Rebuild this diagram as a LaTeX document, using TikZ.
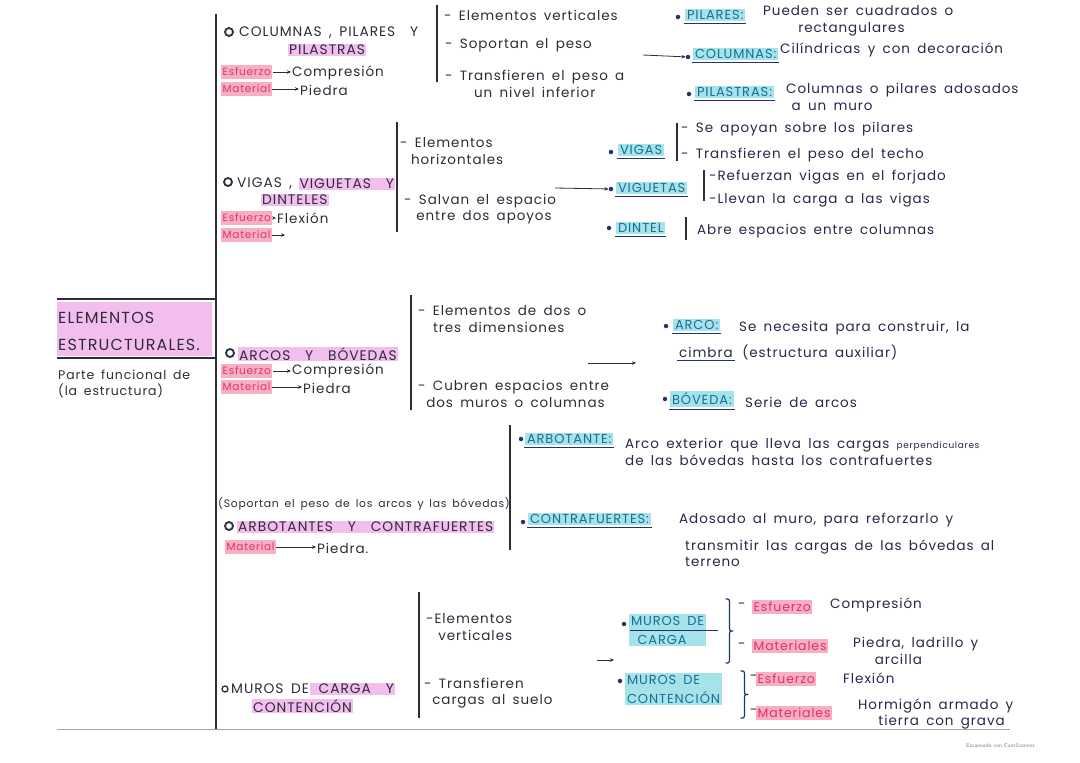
\documentclass[tikz,border=0pt]{standalone}
\usepackage{fontspec}
\newfontfamily\hand[LetterSpace=7,WordSpace=1.6]{Poppins}
\usetikzlibrary{arrows.meta,calc}
\definecolor{ink}{RGB}{45,45,58}
\definecolor{pinkhl}{RGB}{243,190,238}
\definecolor{redhl}{RGB}{248,175,198}
\definecolor{redtx}{RGB}{222,52,98}
\definecolor{tealhl}{RGB}{165,226,233}
\definecolor{tealtx}{RGB}{22,112,150}
\definecolor{navy}{RGB}{32,52,112}
\definecolor{desc}{RGB}{40,40,72}
\newcommand\myul[1]{\draw[uline] ($(#1.south west)+(-1,2)$) -- ($(#1.south east)+(1,2)$);}
% closing brace "}" at x=#1 from y=#2 (top) to y=#3 (bottom), tip pointing right
\newcommand\myrbrace[3]{%
 \pgfmathsetmacro\bym{(#2+#3)/2}%
 \draw[bracel] (#1,#2) .. controls (#1+3.5,#2) .. (#1+3.5,#2+6) -- (#1+3.5,\bym-5)
   .. controls (#1+3.5,\bym) .. (#1+7,\bym) .. controls (#1+3.5,\bym) .. (#1+3.5,\bym+5)
   -- (#1+3.5,#3-6) .. controls (#1+3.5,#3) .. (#1,#3);}
\begin{document}
\begin{tikzpicture}[x=1pt,y=-1pt,
 every node/.style={inner sep=1pt, anchor=west, text=ink},
 txt/.style={font=\hand\fontsize{13.5}{16.5}\selectfont, align=left},
 sm/.style={font=\hand\fontsize{10.8}{12}\selectfont},
 hd/.style={font=\hand\fontsize{13.8}{17}\selectfont},
 pinkbg/.style={fill=pinkhl},
 tag/.style={font=\hand\fontsize{10.5}{12}\selectfont, fill=redhl, text=redtx, inner xsep=1.5pt, inner ysep=2.5pt},
 bigtag/.style={tag, font=\hand\fontsize{12.5}{14}\selectfont},
 lbl/.style={font=\hand\fontsize{13}{19}\selectfont, fill=tealhl, text=tealtx, inner sep=1.8pt, align=left},
 dsc/.style={txt, text=desc},
 bar/.style={draw=ink, line width=1.2pt},
 uline/.style={draw=navy, line width=0.9pt},
 arr/.style={draw=ink, line width=0.8pt, -{Stealth[length=4pt,width=3.5pt]}},
 ring/.style={circle, draw=ink, line width=1.8pt, minimum size=8pt, inner sep=0pt, anchor=center},
 dot/.style={circle, fill=navy, minimum size=4.5pt, inner sep=0pt, anchor=center},
 bracel/.style={draw=navy, line width=1.2pt, line cap=round, line join=round},
]
\useasboundingbox (0,0) rectangle (1080,763);
\fill[white] (0,0) rectangle (1080,763);

% main spine and root
\coordinate (mtop) at (216,14);
\coordinate (mbot) at (216,729);
\draw[bar] (mtop) -- (mbot);
\fill[pinkhl] (57,302) rectangle (212,356);
\node[font=\hand\fontsize{16}{27}\selectfont, align=left] (root) at (57,331) {ELEMENTOS\\ESTRUCTURALES.};
\coordinate (rl1) at (57,299); \coordinate (rl2) at (57,358);
\draw[bar] (rl1) -- (rl1 -| mtop);
\draw[bar] (rl2) -- (rl2 -| mtop);
\node[txt, font=\hand\fontsize{12.5}{16}\selectfont] (rootsub) at (57,384) {Parte funcional de\\(la estructura)};
\coordinate (bl1) at (57,729); \coordinate (bl2) at (1010,729);
\draw[draw=gray!70, line width=1pt] (bl1) -- (bl2);

% ---------- section 1
\node[ring] (o1) at (229,32) {};
\node[hd] (h1) at (238,33) {COLUMNAS , PILARES \ Y};
\node[hd, pinkbg] (h1b) at (288,50) {PILASTRAS};
\node[tag] (e1) at (221,72) {Esfuerzo};
\node[txt] (e1v) at (291,73) {Compresión};
\draw[arr] (e1.east) -- (e1.east -| e1v.west);
\node[tag] (m1) at (221,89) {Material};
\node[txt] (m1v) at (299,90) {Piedra};
\draw[arr] (m1.east) -- (m1.east -| m1v.west);

\coordinate (v1a) at (437,5); \coordinate (v1b) at (437,82);
\draw[bar] (v1a) -- (v1b);
\node[txt] (d11) at (443,15) {- Elementos verticales};
\node[txt] (d12) at (444,45) {- Soportan el peso};
\node[txt, align=center] (d13) at (444,84) {- Transfieren el peso a\\un nivel inferior};

\node[dot] (b11) at (678,17) {};
\node[lbl] (l11) at (685,15) {PILARES:};
\myul{l11}
\node[dsc] (t11) at (762,21) {Pueden ser cuadrados o\\\hspace*{2.6em}rectangulares};
\coordinate (a1s) at (643,55);
\node[dot] (b12) at (688,57) {};
\draw[arr] (a1s) -- (b12);
\node[lbl] (l12) at (693,54) {COLUMNAS:};
\myul{l12}
\node[dsc] (t12) at (779,50) {Cilíndricas y con decoración};
\node[dot] (b13) at (689,94) {};
\node[lbl] (l13) at (695,92) {PILASTRAS:};
\myul{l13}
\node[dsc] (t13) at (785,97) {Columnas o pilares adosados\\\hspace*{0.4em}a un muro};

% ---------- section 2
\node[ring] (o2) at (228,182) {};
\node[hd] (h2a) at (236,184) {VIGAS ,};
\node[hd, pinkbg] (h2b) at ($(h2a.east)+(5,0)$) {VIGUETAS \ Y};
\node[hd, pinkbg] (h2c) at (261,200) {DINTELES};
\node[tag] (e2) at (221,218) {Esfuerzo};
\node[txt] (e2v) at (276,218) {Flexión};
\draw[arr] (e2.east) -- (e2.east -| e2v.west);
\node[tag] (m2) at (221,235) {Material};
\coordinate (m2e) at (285,235);
\draw[arr] (m2.east) -- (m2.east -| m2e);

\coordinate (v2a) at (397,122); \coordinate (v2b) at (397,232);
\draw[bar] (v2a) -- (v2b);
\node[txt] (d21) at (399,151) {- Elementos\\\hspace*{0.8em}horizontales};
\node[txt] (d22) at (403,209) {- Salvan el espacio\\\hspace*{0.9em}entre dos apoyos};
\coordinate (a2s) at (555,188);
\node[dot] (b21) at (611,152) {};
\node[lbl] (l21) at (618,150) {VIGAS};
\myul{l21}
\coordinate (w2a) at (677,123); \coordinate (w2b) at (677,161);
\draw[bar] (w2a) -- (w2b);
\node[dsc] (t21a) at (680,129) {- Se apoyan sobre los pilares};
\node[dsc] (t21b) at (680,155) {- Transfieren el peso del techo};
\node[dot] (b22) at (611,189) {};
\draw[arr] (a2s) -- (b22);
\node[lbl] (l22) at (616,188) {VIGUETAS};
\myul{l22}
\coordinate (w3a) at (704,170); \coordinate (w3b) at (704,201);
\draw[bar] (w3a) -- (w3b);
\node[dsc] (t22a) at (708,177) {-Refuerzan vigas en el forjado};
\node[dsc] (t22b) at (708,200) {-Llevan la carga a las vigas};
\node[dot] (b23) at (609,228) {};
\node[lbl] (l23) at (616,228) {DINTEL};
\myul{l23}
\coordinate (w4a) at (686,217); \coordinate (w4b) at (686,240);
\draw[bar] (w4a) -- (w4b);
\node[dsc] (t23) at (696,231) {Abre espacios entre columnas};

% ---------- section 3
\node[ring] (o3) at (230,353) {};
\node[hd, pinkbg] (h3) at (238,354) {ARCOS \ Y \ BÓVEDAS};
\node[tag] (e3) at (221,371) {Esfuerzo};
\node[txt] (e3v) at (291,371) {Compresión};
\draw[arr] (e3.east) -- (e3.east -| e3v.west);
\node[tag] (m3) at (221,387) {Material};
\node[txt] (m3v) at (302,388) {Piedra};
\draw[arr] (m3.east) -- (m3.east -| m3v.west);

\coordinate (v3a) at (411,295); \coordinate (v3b) at (411,410);
\draw[bar] (v3a) -- (v3b);
\node[txt] (d31) at (417,319) {- Elementos de dos o\\\hspace*{1.1em}tres dimensiones};
\node[txt] (d32) at (417,394) {- Cubren espacios entre\\\hspace*{0.6em}dos muros o columnas};
\coordinate (a3s) at (588,363); \coordinate (a3e) at (636,363);
\draw[arr] (a3s) -- (a3e);
\node[dot] (b31) at (666,326) {};
\node[lbl] (l31) at (673,325) {ARCO:};
\myul{l31}
\node[dsc] (t31a) at (738,328) {Se necesita para construir, la};
\node[dsc] (cb) at (678,352) {cimbra};
\myul{cb}
\node[dsc] (t31b) at (cb.east) {\ (estructura auxiliar)};
\node[dot] (b32) at (665,399) {};
\node[lbl] (l32) at (670,399) {BÓVEDA:};
\myul{l32}
\node[dsc] (t32) at (744,402) {Serie de arcos};

% ---------- section 4
\node[sm] (s4) at (217,504) {(Soportan el peso de los arcos y las bóvedas)};
\node[ring] (o4) at (229,526) {};
\node[hd, pinkbg] (h4) at (237,527) {ARBOTANTES \ Y \ CONTRAFUERTES};
\node[tag] (m4) at (225,547) {Material};
\node[txt] (m4v) at (316,548) {Piedra.};
\draw[arr] (m4.east) -- (m4.east -| m4v.west);

\coordinate (v4a) at (510,425); \coordinate (v4b) at (510,550);
\draw[bar] (v4a) -- (v4b);
\node[dot] (b41) at (521,439) {};
\node[lbl] (l41) at (525,439) {ARBOTANTE:};
\myul{l41}
\node[dsc] (t41) at (624,452) {Arco exterior que lleva las cargas {\fontsize{9}{16}\selectfont perpendiculares}\\de las bóvedas hasta los contrafuertes};
\node[dot] (b42) at (523,522) {};
\node[lbl] (l42) at (528,519) {CONTRAFUERTES:};
\myul{l42}
\node[dsc] (t42a) at (678,520) {Adosado al muro, para reforzarlo y};
\node[dsc] (t42b) at (684,553) {transmitir las cargas de las bóvedas al\\terreno};

% ---------- section 5
\node[ring, minimum size=6pt, line width=1.3pt] (o5) at (225,689) {};
\node[hd] (h5a) at (230,689) {MUROS DE};
\node[hd, pinkbg] (h5b) at (h5a.east) {\ CARGA \ Y};
\node[hd, pinkbg] (h5c) at (252,706) {CONTENCIÓN};

\coordinate (v5a) at (419,592); \coordinate (v5b) at (419,718);
\draw[bar] (v5a) -- (v5b);
\node[txt] (d51) at (425,627) {-Elementos\\\hspace*{0.9em}verticales};
\node[txt] (d52) at (423,693) {- Transfieren\\\hspace*{0.6em}cargas al suelo};
\coordinate (a5s) at (597,660); \coordinate (a5e) at (614,660);
\draw[arr] (a5s) -- (a5e);

\node[dot] (b51) at (624,624) {};
\node[lbl] (l51) at (629,630) {MUROS DE\\\hspace*{0.5em}CARGA};
\coordinate (u51a) at (630,630); \coordinate (u51b) at (718,630);
\draw[uline] (u51a) -- (u51b);
\myrbrace{726}{599}{663}
\node[txt] (k51d) at (737,606) {-};
\node[bigtag] (k51) at (752,607) {Esfuerzo};
\node[dsc] (v51) at (829,605) {Compresión};
\node[txt] (k52d) at (737,646) {-};
\node[bigtag] (k52) at (752,646) {Materiales};
\node[dsc] (v52) at (852,651) {Piedra, ladrillo y\\\hspace*{1.6em}arcilla};

\node[dot] (b52) at (620,681) {};
\node[lbl] (l52) at (625,689) {MUROS DE\\CONTENCIÓN};
\myrbrace{741}{671}{718}
\node[txt] (k53d) at (749,678) {-};
\node[bigtag] (k53) at (756,679) {Esfuerzo};
\node[dsc] (v53) at (842,678) {Flexión};
\node[txt] (k54d) at (749,712) {-};
\node[bigtag] (k54) at (756,713) {Materiales};
\node[dsc] (v54) at (857,714) {Hormigón armado y\\\hspace*{1.5em}tierra con grava};

\node[font=\sffamily\fontsize{5.5}{6}\selectfont, text=gray] (foot) at (965,746) {Escaneado con CamScanner};
\end{tikzpicture}
\end{document}
